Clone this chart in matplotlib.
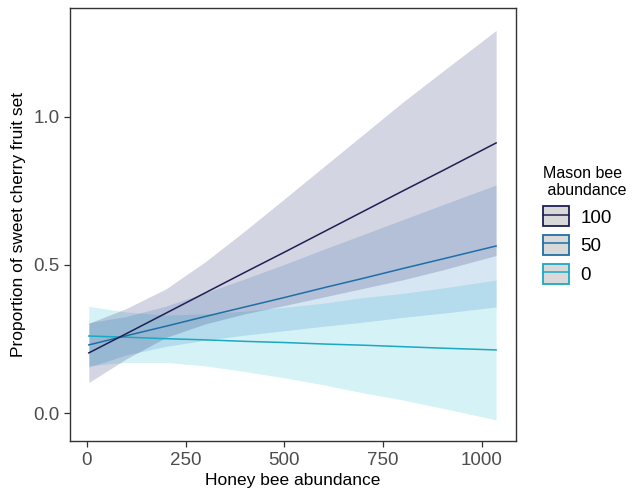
import matplotlib
matplotlib.use("Agg")
import matplotlib.pyplot as plt
from matplotlib.patches import Patch
from matplotlib.lines import Line2D
from matplotlib.legend_handler import HandlerTuple

plt.rcParams['font.family'] = ['Liberation Sans', 'DejaVu Sans']

honey = [5, 100, 200, 300, 400, 500, 600, 700, 800, 900, 1036]

# fitted fruit set for mason bee abundance 100 / 50 / 0
fit100 = [0.203, 0.268, 0.337, 0.406, 0.475, 0.543, 0.612, 0.681, 0.750, 0.818, 0.912]
fit50 = [0.230, 0.261, 0.293, 0.326, 0.358, 0.390, 0.423, 0.455, 0.488, 0.520, 0.564]
fit0 = [0.260, 0.256, 0.251, 0.247, 0.242, 0.238, 0.233, 0.229, 0.224, 0.219, 0.213]

# confidence band limits
lo100 = [0.103, 0.183, 0.255, 0.301, 0.335, 0.363, 0.392, 0.421, 0.450, 0.483, 0.532]
hi100 = [0.303, 0.353, 0.419, 0.511, 0.615, 0.723, 0.832, 0.941, 1.050, 1.153, 1.292]
lo50 = [0.155, 0.196, 0.225, 0.246, 0.263, 0.278, 0.293, 0.307, 0.323, 0.337, 0.358]
hi50 = [0.305, 0.326, 0.361, 0.406, 0.453, 0.502, 0.553, 0.603, 0.653, 0.703, 0.770]
lo0 = [0.160, 0.171, 0.171, 0.159, 0.140, 0.119, 0.095, 0.068, 0.044, 0.016, -0.023]
hi0 = [0.360, 0.341, 0.331, 0.335, 0.344, 0.357, 0.371, 0.390, 0.404, 0.422, 0.449]

groups = ['100', '50', '0']
line_cols = ['#1f1f55', '#1f6fa6', '#1aa8c4']
fill_cols = ['#1f2166', '#2a7fbf', '#22bcd8']

fig = plt.figure(figsize=(6.35, 4.94), dpi=100)
ax = fig.add_axes([0.110, 0.107, 0.703, 0.877])

fits = [fit100, fit50, fit0]
los = [lo100, lo50, lo0]
his = [hi100, hi50, hi0]

for i in [2, 1, 0]:
    ax.fill_between(honey, los[i], his[i], color=fill_cols[i], alpha=0.19, linewidth=0)
for i in [2, 1, 0]:
    ax.plot(honey, fits[i], color=line_cols[i], linewidth=1.1)

ax.set_xlim(-43, 1087)
ax.set_ylim(-0.095, 1.368)
ax.set_xticks([0, 250, 500, 750, 1000])
ax.set_yticks([0.0, 0.5, 1.0])
ax.set_yticklabels(['0.0', '0.5', '1.0'])

for s in ax.spines.values():
    s.set_color('#333333')
    s.set_linewidth(1.0)
ax.tick_params(colors='#333333', labelcolor='#4d4d4d', labelsize=13.5, length=4, width=0.9)

ax.set_xlabel('Honey bee abundance', fontsize=12.5, color='black', labelpad=3)
ax.set_ylabel('Proportion of sweet cherry fruit set', fontsize=12.5, color='black', labelpad=5)

handles = []
for i in range(3):
    box = Patch(facecolor='#d9d9d9', edgecolor=line_cols[i], linewidth=1.3)
    ln = Line2D([0], [0], color=line_cols[i], linewidth=1.1)
    handles.append((box, ln))

leg = ax.legend(handles, groups, handler_map={tuple: HandlerTuple(ndivide=1)},
                title='Mason bee\n abundance', loc='upper left',
                bbox_to_anchor=(0.843, 0.68), bbox_transform=fig.transFigure,
                frameon=False, fontsize=13.5, title_fontsize=11.5,
                handlelength=1.4, handleheight=1.25, labelspacing=0.45,
                handletextpad=0.6, borderaxespad=0)
leg._legend_box.align = 'left'

fig.savefig('out.png', dpi=100)
